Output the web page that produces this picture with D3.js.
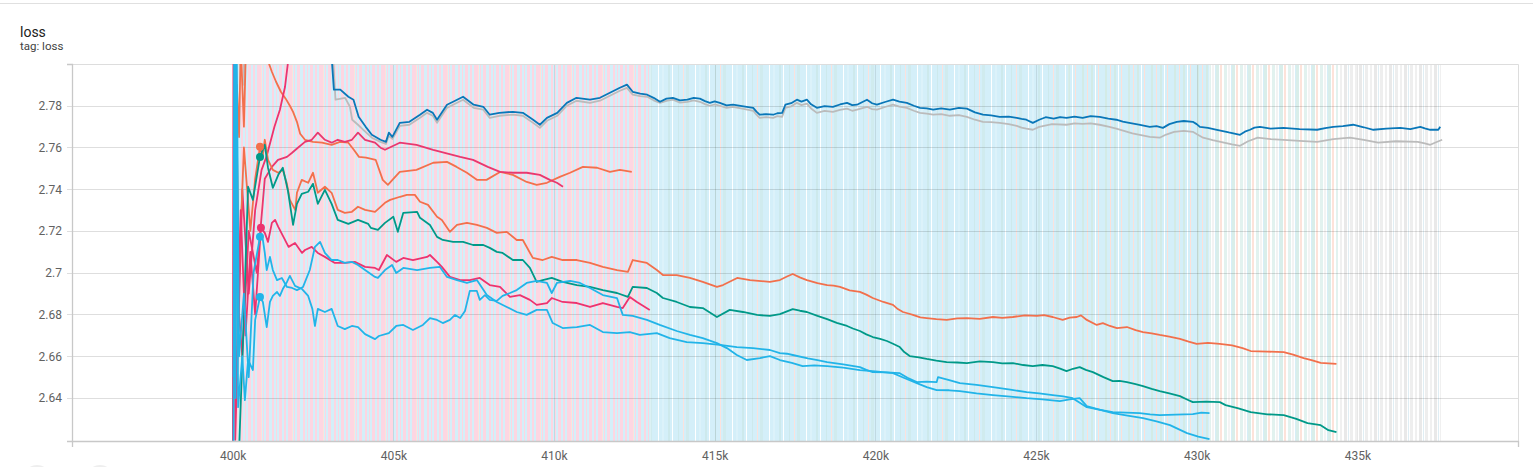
<!DOCTYPE html>
<html>
<head>
<meta charset="utf-8">
<script src="https://cdn.jsdelivr.net/npm/d3@7"></script>
<style>
  body { margin: 0; background: #fff; font-family: Roboto, "Noto Sans", sans-serif; }
  svg { display: block; }
</style>
</head>
<body>
<div id="chart"></div>
<script>
// steps are in thousands (k), values are loss
const xTicks = [400, 405, 410, 415, 420, 425, 430, 435];
const xTickLabels = ["400k", "405k", "410k", "415k", "420k", "425k", "430k", "435k"];
const yTicks = [2.64, 2.66, 2.68, 2.70, 2.72, 2.74, 2.76, 2.78];
const yTickLabels = ["2.64", "2.66", "2.68", "2.7", "2.72", "2.74", "2.76", "2.78"];

// where the raw (unsmoothed) curves cover the plot
const rawSpanStart = [400.0, 413.0, 426.0, 430.4, 434.4];
const rawSpanEnd = [413.0, 426.0, 430.4, 434.4, 437.6];

// step at which the hover dots sit
const markerStep = 400.85;

const runGrey = [[400.3,2.85],[400.36,2.79],[400.42,2.86],[403.0,2.86],[403.1,2.81],[403.2,2.7829],[403.5,2.7838],[403.65,2.7795],[403.72,2.7733],[403.9,2.7709],[404.1,2.768],[404.33,2.7647],[404.6,2.7627],[404.77,2.7617],[404.86,2.7656],[404.97,2.7641],[405.2,2.7704],[405.5,2.7709],[405.83,2.7742],[406.05,2.7766],[406.23,2.7752],[406.36,2.7718],[406.67,2.779],[406.86,2.7805],[407.17,2.7829],[407.5,2.779],[407.8,2.7781],[408.0,2.7742],[408.3,2.7752],[408.72,2.7757],[409.03,2.7752],[409.35,2.7718],[409.56,2.7694],[409.78,2.7728],[410.1,2.7752],[410.4,2.78],[410.7,2.7824],[411.12,2.7814],[411.43,2.7824],[411.74,2.7848],[412.05,2.7872],[412.27,2.7886],[412.45,2.7853],[412.68,2.7846],[412.9,2.7843],[413.1,2.7826],[413.3,2.7814],[413.5,2.7823],[413.7,2.7829],[413.92,2.7815],[414.15,2.7819],[414.35,2.7826],[414.54,2.7819],[414.7,2.7808],[414.85,2.78],[415.0,2.7806],[415.16,2.78],[415.37,2.779],[415.57,2.7795],[415.9,2.7785],[416.2,2.7776],[416.3,2.7757],[416.4,2.7742],[416.6,2.7746],[416.82,2.7742],[416.95,2.775],[417.1,2.7747],[417.2,2.779],[417.38,2.7797],[417.56,2.7814],[417.7,2.7803],[417.87,2.781],[418.0,2.7787],[418.18,2.7766],[418.42,2.7775],[418.68,2.7771],[418.9,2.778],[419.12,2.7786],[419.28,2.7776],[419.43,2.7781],[419.6,2.7789],[419.74,2.7795],[419.9,2.7784],[420.05,2.7781],[420.3,2.7794],[420.55,2.7805],[420.75,2.7796],[420.98,2.779],[421.2,2.7776],[421.39,2.7766],[421.6,2.7762],[421.8,2.7757],[422.05,2.776],[422.32,2.7752],[422.6,2.7755],[422.85,2.7747],[423.1,2.7733],[423.35,2.7723],[423.6,2.7722],[423.87,2.7718],[424.15,2.7712],[424.4,2.7704],[424.55,2.7695],[424.7,2.769],[424.9,2.7685],[425.1,2.7699],[425.5,2.7712],[425.95,2.7709],[426.2,2.7716],[426.45,2.7713],[426.7,2.7716],[426.98,2.7709],[427.25,2.77],[427.5,2.769],[428.0,2.7668],[428.54,2.7651],[428.85,2.7647],[429.05,2.7662],[429.3,2.7675],[429.6,2.768],[429.88,2.7675],[430.05,2.766],[430.2,2.7647],[430.5,2.7635],[430.85,2.7623],[431.1,2.7615],[431.35,2.7608],[431.6,2.763],[431.9,2.7647],[432.3,2.764],[432.7,2.7637],[433.2,2.7632],[433.75,2.7627],[434.25,2.764],[434.77,2.7647],[435.2,2.7637],[435.65,2.7623],[436.2,2.763],[436.88,2.7627],[437.1,2.762],[437.27,2.7613],[437.45,2.7625],[437.64,2.7637]];

const runBlue = [[400.1,2.86],[403.0,2.86],[403.05,2.81],[403.15,2.7877],[403.35,2.7877],[403.6,2.7843],[403.76,2.7829],[403.92,2.7747],[404.14,2.7699],[404.33,2.7661],[404.6,2.7637],[404.77,2.7627],[404.86,2.7671],[404.97,2.7651],[405.2,2.7718],[405.5,2.7723],[405.83,2.7757],[406.05,2.7781],[406.23,2.7766],[406.36,2.7733],[406.67,2.7805],[406.86,2.7819],[407.17,2.7843],[407.5,2.7805],[407.8,2.7795],[408.0,2.7757],[408.3,2.7766],[408.72,2.7771],[409.03,2.7766],[409.35,2.7733],[409.56,2.7709],[409.78,2.7742],[410.1,2.7766],[410.4,2.7814],[410.7,2.7838],[411.12,2.7829],[411.43,2.7838],[411.74,2.7862],[412.05,2.7886],[412.27,2.7901],[412.45,2.7867],[412.68,2.7858],[412.9,2.7853],[413.1,2.7838],[413.3,2.7819],[413.5,2.7834],[413.7,2.7838],[413.92,2.7826],[414.15,2.7829],[414.35,2.7838],[414.54,2.7834],[414.7,2.7822],[414.85,2.7814],[415.0,2.7821],[415.16,2.7814],[415.37,2.7802],[415.57,2.7805],[415.9,2.7797],[416.2,2.779],[416.3,2.7772],[416.4,2.7757],[416.6,2.776],[416.82,2.7757],[416.95,2.7764],[417.1,2.7766],[417.2,2.7805],[417.38,2.7812],[417.56,2.7829],[417.7,2.782],[417.87,2.7829],[418.0,2.7807],[418.18,2.779],[418.42,2.7798],[418.68,2.7795],[418.9,2.7806],[419.12,2.7814],[419.28,2.7803],[419.43,2.7805],[419.6,2.7818],[419.74,2.7829],[419.9,2.7812],[420.05,2.7805],[420.3,2.7818],[420.55,2.7829],[420.75,2.782],[420.98,2.7814],[421.2,2.78],[421.39,2.779],[421.6,2.7787],[421.8,2.7781],[422.05,2.7787],[422.32,2.7781],[422.6,2.779],[422.85,2.7786],[423.1,2.7768],[423.35,2.7757],[423.6,2.7754],[423.87,2.7747],[424.15,2.7748],[424.4,2.7742],[424.55,2.7737],[424.7,2.7733],[424.9,2.7718],[425.1,2.7733],[425.3,2.7745],[425.55,2.7738],[425.75,2.7746],[425.95,2.7742],[426.2,2.7748],[426.45,2.7742],[426.7,2.775],[426.98,2.7747],[427.25,2.7738],[427.5,2.7733],[427.7,2.7724],[427.9,2.7718],[428.2,2.771],[428.54,2.7699],[428.75,2.7702],[428.95,2.7694],[429.15,2.7712],[429.38,2.7723],[429.6,2.7727],[429.88,2.7723],[430.0,2.7712],[430.1,2.7699],[430.35,2.7694],[430.63,2.7685],[431.0,2.7672],[431.35,2.7661],[431.5,2.7676],[431.66,2.7685],[431.8,2.7695],[431.97,2.7699],[432.3,2.769],[432.7,2.7694],[433.2,2.7688],[433.75,2.7685],[434.0,2.7693],[434.25,2.7699],[434.55,2.7702],[434.87,2.7709],[435.2,2.7697],[435.5,2.7685],[435.9,2.769],[436.34,2.7694],[436.65,2.7688],[436.96,2.7699],[437.1,2.7692],[437.27,2.7685],[437.52,2.7685],[437.58,2.7699]];

const runOrangeA = [[400.08,2.64],[400.13,2.79],[400.2,2.765],[400.25,2.81],[400.35,2.77],[400.45,2.83],[401.0,2.83],[401.12,2.8006],[401.22,2.7963],[401.35,2.7915],[401.5,2.7867],[401.65,2.7834],[401.78,2.78],[401.88,2.7771],[402.0,2.7723],[402.1,2.7666],[402.25,2.7637],[402.5,2.7627],[402.78,2.7623],[403.08,2.7613],[403.34,2.7627],[403.6,2.7623],[403.77,2.7589],[403.93,2.7555],[404.15,2.7551],[404.45,2.7541],[404.67,2.7445],[404.83,2.7421],[405.2,2.7483],[405.72,2.7493],[406.24,2.7527],[406.67,2.7531],[406.97,2.7507],[407.29,2.7479],[407.6,2.7445],[407.9,2.7445],[408.32,2.7483],[408.72,2.7469],[409.15,2.7435],[409.46,2.7421],[409.78,2.7431],[410.18,2.7459],[410.5,2.7479],[410.9,2.7507],[411.34,2.7503],[411.74,2.7483],[412.05,2.7493],[412.42,2.7483]];

const runMagentaC = [[400.0,2.55],[400.03,2.86],[400.08,2.62],[400.3,2.74],[400.5,2.69],[400.7,2.73],[400.9,2.7493],[401.05,2.7555],[401.3,2.7699],[401.47,2.7781],[401.63,2.7891],[401.72,2.8006],[401.9,2.83],[403.0,2.85]];

const runMagentaA = [[400.1,2.70],[400.3,2.66],[400.5,2.72],[400.75,2.70],[401.0,2.745],[401.22,2.7507],[401.41,2.7541],[401.69,2.7555],[401.85,2.7575],[402.03,2.7599],[402.25,2.7627],[402.46,2.7637],[402.65,2.7671],[402.87,2.7637],[403.08,2.7623],[403.27,2.7637],[403.49,2.7627],[403.71,2.7637],[403.9,2.7671],[404.12,2.7637],[404.43,2.7623],[404.6,2.7599],[404.74,2.7589],[405.2,2.7623],[405.72,2.7613],[406.24,2.7589],[407.08,2.7555],[407.48,2.7541],[407.94,2.7507],[408.32,2.7483],[408.72,2.7479],[409.15,2.7479],[409.56,2.7469],[409.87,2.7445],[410.09,2.7431],[410.28,2.7412]];

const runOrangeB = [[400.1,2.79],[400.2,2.70],[400.35,2.76],[400.55,2.72],[400.7,2.745],[400.85,2.7603],[400.93,2.7555],[401.0,2.7637],[401.1,2.7541],[401.25,2.7493],[401.42,2.7479],[401.56,2.7493],[401.68,2.7431],[401.78,2.7349],[401.95,2.73],[402.0,2.7383],[402.15,2.7445],[402.35,2.7431],[402.5,2.7479],[402.65,2.7383],[402.87,2.7412],[403.08,2.7383],[403.27,2.7301],[403.49,2.7287],[403.71,2.7292],[403.9,2.7316],[404.12,2.7301],[404.43,2.7292],[404.74,2.7335],[404.9,2.7349],[405.21,2.7364],[405.42,2.7373],[405.67,2.7373],[405.83,2.734],[406.08,2.7325],[406.36,2.7268],[406.51,2.7253],[406.76,2.7196],[406.98,2.7229],[407.29,2.7239],[407.6,2.7229],[407.91,2.7215],[408.22,2.7191],[408.53,2.7196],[408.84,2.7157],[409.03,2.7157],[409.34,2.7071],[409.65,2.7061],[409.93,2.7076],[410.27,2.7061],[410.71,2.7061],[411.12,2.7047],[411.52,2.7028],[411.96,2.7013],[412.3,2.7004],[412.45,2.7061],[412.89,2.7047],[413.2,2.7013],[413.39,2.6989],[413.82,2.6989],[414.23,2.6975],[414.63,2.6956],[415.07,2.6932],[415.26,2.6941],[415.7,2.6975],[416.1,2.6965],[416.72,2.6956],[417.03,2.6965],[417.25,2.6982],[417.43,2.6994],[417.65,2.6978],[417.87,2.6965],[418.2,2.695],[418.5,2.6941],[418.7,2.6938],[418.9,2.6932],[419.2,2.6916],[419.52,2.6908],[419.72,2.6895],[419.92,2.6879],[420.25,2.686],[420.55,2.6846],[420.7,2.6826],[420.86,2.6812],[421.0,2.6806],[421.17,2.6798],[421.4,2.6786],[421.6,2.6783],[421.9,2.6778],[422.22,2.6774],[422.55,2.6781],[422.85,2.6783],[423.25,2.6779],[423.66,2.6788],[423.95,2.6784],[424.28,2.6788],[424.65,2.6796],[425.03,2.6793],[425.25,2.6797],[425.52,2.6788],[425.83,2.6774],[426.05,2.6785],[426.27,2.6788],[426.4,2.6796],[426.58,2.6774],[426.89,2.675],[427.08,2.6759],[427.3,2.6745],[427.52,2.6735],[427.83,2.674],[428.1,2.6725],[428.33,2.6716],[428.6,2.671],[428.85,2.6702],[429.15,2.6694],[429.48,2.6683],[429.75,2.667],[430.0,2.6659],[430.35,2.6664],[430.72,2.6659],[431.1,2.6652],[431.43,2.6639],[431.68,2.6625],[432.2,2.6622],[432.71,2.662],[433.0,2.6608],[433.33,2.6591],[433.6,2.658],[433.86,2.6568],[434.1,2.6566],[434.35,2.6563]];

const runTeal = [[400.15,2.60],[400.2,2.615],[400.35,2.68],[400.48,2.7412],[400.63,2.7349],[400.85,2.7555],[401.0,2.7613],[401.1,2.7503],[401.25,2.7407],[401.42,2.7469],[401.56,2.7503],[401.72,2.7393],[401.88,2.7229],[402.0,2.733],[402.15,2.7378],[402.35,2.7388],[402.5,2.7426],[402.65,2.733],[402.87,2.7397],[403.08,2.733],[403.27,2.7253],[403.6,2.7234],[403.9,2.7253],[404.22,2.7234],[404.3,2.7215],[404.52,2.7205],[404.74,2.7239],[405.0,2.7268],[405.14,2.7196],[405.31,2.7287],[405.74,2.7292],[405.83,2.7263],[406.14,2.7229],[406.36,2.7172],[406.54,2.7157],[406.86,2.7148],[407.17,2.7148],[407.48,2.7133],[407.8,2.7133],[408.0,2.7119],[408.22,2.71],[408.4,2.7095],[408.72,2.7061],[409.03,2.7061],[409.25,2.7023],[409.46,2.6956],[409.65,2.6965],[409.93,2.6975],[410.27,2.6956],[410.71,2.6941],[411.12,2.6932],[411.52,2.6917],[411.96,2.6903],[412.3,2.6884],[412.45,2.6932],[412.89,2.6927],[413.2,2.6903],[413.39,2.6879],[413.82,2.686],[414.23,2.6836],[414.63,2.6831],[415.07,2.6788],[415.47,2.6822],[415.88,2.6812],[416.32,2.6798],[416.72,2.6793],[417.03,2.6802],[417.25,2.6815],[417.43,2.6826],[417.65,2.6818],[417.87,2.6812],[418.2,2.6793],[418.5,2.6778],[418.8,2.676],[419.12,2.6745],[419.3,2.6733],[419.52,2.6721],[419.72,2.6705],[419.92,2.6692],[420.15,2.6683],[420.36,2.6673],[420.55,2.666],[420.76,2.6644],[420.9,2.662],[421.07,2.6601],[421.35,2.6595],[421.6,2.6587],[421.9,2.6579],[422.22,2.6572],[422.55,2.657],[422.85,2.6567],[423.25,2.6575],[423.66,2.6572],[423.95,2.6566],[424.28,2.6567],[424.6,2.6558],[424.9,2.6553],[425.2,2.6558],[425.52,2.6553],[425.75,2.6541],[425.95,2.6529],[426.15,2.654],[426.36,2.6548],[426.55,2.6535],[426.77,2.6524],[427.1,2.65],[427.39,2.6481],[427.6,2.6482],[427.83,2.6476],[428.1,2.6466],[428.33,2.6457],[428.6,2.6444],[428.85,2.6433],[429.15,2.6422],[429.48,2.6409],[429.7,2.6393],[429.88,2.638],[430.3,2.6383],[430.72,2.638],[430.9,2.6366],[431.3,2.635],[431.68,2.6332],[432.2,2.6322],[432.71,2.6318],[433.1,2.63],[433.45,2.628],[433.86,2.627],[434.1,2.6246],[434.35,2.6236]];

const runMagentaB = [[400.1,2.64],[400.25,2.73],[400.4,2.67],[400.55,2.71],[400.7,2.68],[400.88,2.7215],[401.0,2.7191],[401.1,2.7148],[401.22,2.7239],[401.32,2.7253],[401.42,2.722],[401.58,2.7172],[401.74,2.7124],[401.94,2.7143],[402.16,2.7095],[402.25,2.7109],[402.46,2.7124],[402.65,2.7095],[402.87,2.7076],[403.18,2.7047],[403.49,2.7047],[403.8,2.7052],[404.12,2.7028],[404.43,2.7023],[404.55,2.7013],[404.8,2.7085],[405.09,2.7052],[405.31,2.7071],[405.61,2.7061],[406.05,2.7076],[406.14,2.7085],[406.36,2.7052],[406.51,2.7028],[406.76,2.698],[407.08,2.6965],[407.38,2.6965],[407.69,2.6975],[408.0,2.6941],[408.32,2.6932],[408.63,2.6884],[408.94,2.6893],[409.25,2.687],[409.46,2.6846],[409.78,2.6855],[409.93,2.6879],[410.27,2.686],[410.71,2.6855],[411.12,2.6836],[411.52,2.6855],[411.96,2.6836],[412.14,2.6831],[412.36,2.6884],[412.58,2.686],[412.98,2.6822]];

const runCyanA = [[400.02,2.55],[400.05,2.86],[400.09,2.64],[400.13,2.80],[400.2,2.66],[400.35,2.69],[400.5,2.65],[400.65,2.70],[400.85,2.7172],[400.94,2.7157],[401.0,2.7095],[401.06,2.7013],[401.16,2.7076],[401.25,2.7013],[401.38,2.6965],[401.53,2.6975],[401.69,2.6932],[401.85,2.6927],[402.0,2.6917],[402.19,2.6932],[402.4,2.7013],[402.56,2.7124],[402.72,2.7148],[402.87,2.7095],[403.08,2.7061],[403.27,2.7061],[403.49,2.7047],[403.71,2.7052],[403.9,2.7037],[404.12,2.7013],[404.43,2.698],[404.52,2.6975],[404.74,2.7013],[404.96,2.7037],[405.09,2.6999],[405.31,2.7023],[405.74,2.7013],[406.14,2.7023],[406.45,2.7028],[406.67,2.698],[406.98,2.6965],[407.29,2.6951],[407.6,2.6965],[407.91,2.6893],[408.22,2.686],[408.53,2.6836],[408.84,2.6812],[409.15,2.6798],[409.46,2.6822],[409.78,2.6822],[409.96,2.6759],[410.27,2.6735],[410.71,2.674],[411.12,2.675],[411.52,2.6716],[411.96,2.6711],[412.36,2.6716],[412.67,2.6702],[413.2,2.6711],[413.6,2.6687],[414.13,2.6668],[414.63,2.6663],[415.16,2.6654],[415.69,2.6644],[416.19,2.6639],[416.72,2.663],[417.03,2.6615],[417.25,2.6612],[417.43,2.6606],[417.9,2.659],[418.2,2.6581],[418.5,2.6572],[419.0,2.6561],[419.52,2.6548],[419.72,2.6535],[419.92,2.6524],[420.35,2.6523],[420.76,2.6519],[421.0,2.6497],[421.29,2.6476],[421.6,2.6478],[421.91,2.6476],[421.95,2.65],[422.3,2.6486],[422.63,2.6471],[423.15,2.6463],[423.66,2.6452],[424.2,2.644],[424.71,2.6428],[425.1,2.6422],[425.52,2.6414],[425.85,2.6408],[426.14,2.6399],[426.35,2.6378],[426.58,2.6356],[427.0,2.6343],[427.39,2.6332],[427.8,2.633],[428.23,2.6328],[428.55,2.6322],[428.85,2.6318],[429.35,2.632],[429.88,2.6323],[430.15,2.633],[430.4,2.6328]];

const runCyanB = [[400.03,2.65],[400.1,2.80],[400.17,2.6356],[400.3,2.66],[400.38,2.639],[400.48,2.6582],[400.63,2.6534],[400.7,2.6774],[400.85,2.6884],[400.94,2.686],[401.06,2.674],[401.16,2.686],[401.25,2.6889],[401.38,2.6908],[401.47,2.6889],[401.56,2.6922],[401.69,2.6956],[401.78,2.6985],[401.94,2.6937],[402.16,2.6922],[402.35,2.6889],[402.48,2.6827],[402.56,2.6745],[402.65,2.6827],[402.87,2.6812],[403.08,2.6827],[403.27,2.6745],[403.49,2.673],[403.71,2.6745],[403.9,2.674],[404.12,2.6706],[404.43,2.6682],[404.55,2.6697],[404.86,2.6711],[405.09,2.6745],[405.31,2.675],[405.61,2.6726],[405.92,2.675],[406.14,2.6783],[406.36,2.6774],[406.54,2.6759],[406.76,2.6774],[406.92,2.6798],[407.08,2.6783],[407.23,2.6817],[407.38,2.6913],[407.6,2.6913],[407.69,2.687],[407.85,2.6893],[408.0,2.687],[408.22,2.6865],[408.4,2.6889],[408.63,2.6903],[408.84,2.6917],[409.15,2.6951],[409.46,2.6961],[409.78,2.6951],[409.93,2.6903],[410.09,2.6951],[410.5,2.6961],[410.81,2.6951],[411.12,2.6927],[411.52,2.6893],[411.96,2.6879],[412.14,2.6798],[412.45,2.6793],[412.89,2.6774],[413.29,2.675],[413.82,2.6721],[414.23,2.6702],[414.63,2.6687],[415.07,2.6663],[415.38,2.6639],[415.69,2.6606],[416.0,2.6582],[416.41,2.6591],[416.72,2.6601],[417.03,2.6582],[417.4,2.6568],[417.74,2.6553],[418.1,2.6556],[418.5,2.6553],[419.0,2.6545],[419.52,2.6534],[420.0,2.6528],[420.55,2.6519],[420.9,2.6496],[421.29,2.6471],[421.6,2.6452],[421.91,2.6438],[422.3,2.6437],[422.63,2.6433],[423.15,2.6422],[423.66,2.6414],[424.2,2.6407],[424.71,2.6399],[425.2,2.6393],[425.74,2.6385],[426.05,2.6393],[426.36,2.6399],[426.58,2.6361],[427.0,2.6343],[427.39,2.6328],[427.85,2.6316],[428.33,2.6304],[428.75,2.6288],[429.17,2.627],[429.45,2.625],[429.7,2.6232],[430.05,2.6215],[430.4,2.6203]];

// run table: drawing order and colours
const runs = [
  { points: runGrey, color: "#bbbbbb", marker: false },
  { points: runBlue, color: "#0a77b8", marker: false },
  { points: runOrangeA, color: "#f2704c", marker: false },
  { points: runMagentaC, color: "#ec336f", marker: false },
  { points: runMagentaA, color: "#e8386f", marker: false },
  { points: runOrangeB, color: "#f2704c", marker: true },
  { points: runTeal, color: "#009988", marker: true },
  { points: runMagentaB, color: "#ec336f", marker: true },
  { points: runCyanA, color: "#22b4e8", marker: true },
  { points: runCyanB, color: "#22b4e8", marker: true }
];

// stripe textures standing in for the faded raw curves
const rawTextures = [
  { base: "#d4eff9", w: 31, stripes: [[0,3,"#fdd6e2"],[5,2,"#fdd6e2"],[9,4,"#fdd6e2"],[13,1,"#fde2da"],[15,1,"#fdd6e2"],[18,3,"#fdd6e2"],[24,2,"#fdd6e2"],[28,1,"#fdd6e2"]] },
  { base: "#d4eff9", w: 37, stripes: [[2,2,"#cde9ec"],[6,1,"#ffffff"],[12,1,"#cde9ec"],[17,1,"#fbe2dd"],[20,3,"#d0ebee"],[29,1,"#ffffff"],[33,2,"#dcf2fa"]] },
  { base: "#d4eff9", w: 23, stripes: [[1,2,"#d3ebe6"],[6,1,"#fde0d8"],[10,2,"#d3ebe6"],[14,1,"#ffffff"],[17,1,"#fde0d8"]] },
  { base: "#ffffff", w: 16, stripes: [[0,3,"#d9eeea"],[4,2,"#fde3da"],[8,3,"#e2f2ef"],[12,2,"#f3f3f3"],[15,1,"#d6eef7"]] },
  { base: "#ffffff", w: 15, stripes: [[0,3,"#eeeeee"],[5,2,"#f0f0f0"],[9,3,"#e9e9e9"],[13,1,"#e0eef4"]] }
];

const W = 1533, H = 467;
const plot = { left: 72, right: 1518, top: 64, bottom: 441 };

const svg = d3.select("#chart").append("svg")
    .attr("width", W)
    .attr("height", H);

const x = d3.scaleLinear().domain([395, 440]).range([plot.left, plot.right]);
const y = d3.scaleLinear().domain([2.6194, 2.8]).range([plot.bottom, plot.top]);

// card top border
svg.append("line")
    .attr("x1", 0).attr("x2", W).attr("y1", 3.5).attr("y2", 3.5)
    .attr("stroke", "#e0e0e0");

// titles
svg.append("text").attr("x", 20).attr("y", 37)
    .attr("font-size", 14).attr("fill", "#212121").text("loss");
svg.append("text").attr("x", 20).attr("y", 50)
    .attr("font-size", 11.5).attr("fill", "#424242").text("tag: loss");

const defs = svg.append("defs");
defs.append("clipPath").attr("id", "plotClip")
  .append("rect")
    .attr("x", plot.left).attr("y", plot.top)
    .attr("width", plot.right - plot.left)
    .attr("height", plot.bottom - plot.top);

rawTextures.forEach((t, i) => {
  const p = defs.append("pattern")
      .attr("id", "raw" + i)
      .attr("patternUnits", "userSpaceOnUse")
      .attr("width", t.w).attr("height", H);
  p.append("rect").attr("width", t.w).attr("height", H).attr("fill", t.base);
  t.stripes.forEach(s => {
    p.append("rect").attr("x", s[0]).attr("width", s[1]).attr("height", H).attr("fill", s[2]);
  });
});

// raw coverage
svg.append("g").selectAll("rect")
  .data(rawSpanStart)
  .join("rect")
    .attr("x", d => x(d))
    .attr("y", plot.top)
    .attr("width", (d, i) => x(rawSpanEnd[i]) - x(d))
    .attr("height", plot.bottom - plot.top)
    .attr("fill", (d, i) => `url(#raw${i})`);

// grid
const grid = svg.append("g");
grid.selectAll(".hgrid")
  .data(yTicks)
  .join("line")
    .attr("x1", plot.left - 5).attr("x2", plot.right)
    .attr("y1", d => Math.round(y(d)) + 0.5).attr("y2", d => Math.round(y(d)) + 0.5)
    .attr("stroke", "rgba(0,0,0,0.13)");
grid.selectAll(".vgrid")
  .data(xTicks)
  .join("line")
    .attr("x1", d => Math.round(x(d)) + 0.5).attr("x2", d => Math.round(x(d)) + 0.5)
    .attr("y1", plot.top).attr("y2", plot.bottom)
    .attr("stroke", "rgba(0,0,0,0.09)");

// top and right frame
svg.append("path")
    .attr("d", `M${plot.left - 5},${plot.top + 0.5}H${plot.right + 0.5}V${plot.bottom}`)
    .attr("fill", "none")
    .attr("stroke", "#dddddd");

// smoothed runs
const line = d3.line()
    .x(d => x(d[0]))
    .y(d => y(d[1]));

const lines = svg.append("g").attr("clip-path", "url(#plotClip)");
lines.selectAll("path")
  .data(runs)
  .join("path")
    .attr("d", d => line(d.points))
    .attr("fill", "none")
    .attr("stroke", d => d.color)
    .attr("stroke-width", 1.8)
    .attr("stroke-linejoin", "round");

// hover dots
const nearest = pts => d3.least(pts, p => Math.abs(p[0] - markerStep));
lines.selectAll("circle")
  .data(runs.filter(r => r.marker))
  .join("circle")
    .attr("cx", d => x(nearest(d.points)[0]))
    .attr("cy", d => y(nearest(d.points)[1]))
    .attr("r", 4)
    .attr("fill", d => d.color);

// axes
const yAxis = svg.append("g")
    .attr("transform", `translate(${plot.left},0)`)
    .call(d3.axisLeft(y).tickValues(yTicks)
      .tickFormat((d, i) => yTickLabels[i])
      .tickSizeInner(0).tickSizeOuter(5).tickPadding(10));

const xAxis = svg.append("g")
    .attr("transform", `translate(0,${plot.bottom})`)
    .call(d3.axisBottom(x).tickValues(xTicks)
      .tickFormat((d, i) => xTickLabels[i])
      .tickSizeInner(0).tickSizeOuter(6).tickPadding(10));

[yAxis, xAxis].forEach(a => {
  a.select(".domain").attr("stroke", "#c8c8c8").attr("stroke-width", 1.3);
  a.selectAll("text")
      .attr("font-family", "Roboto, sans-serif")
      .attr("font-size", 12)
      .attr("fill", "#616161");
});

// toolbar buttons peeking in at the bottom
svg.append("g").selectAll("circle")
  .data([37, 100])
  .join("circle")
    .attr("cx", d => d)
    .attr("cy", 479)
    .attr("r", 14)
    .attr("fill", "#eeeeee");
</script>
</body>
</html>
